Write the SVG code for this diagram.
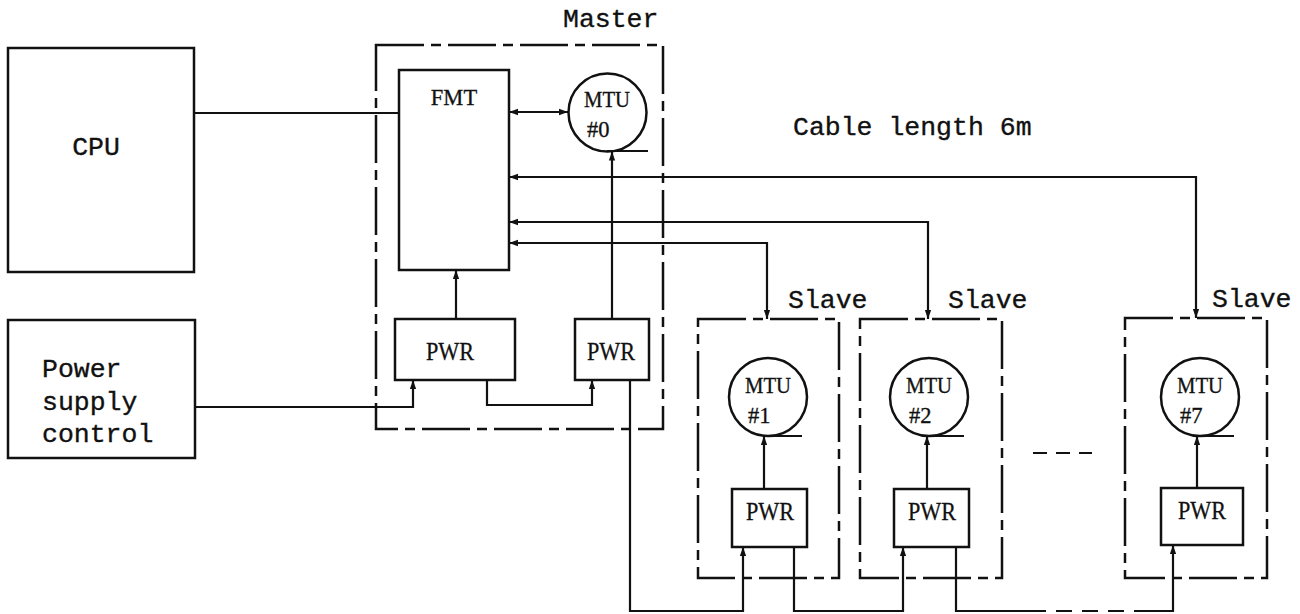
<svg xmlns="http://www.w3.org/2000/svg" width="1300" height="614" viewBox="0 0 1300 614">
<defs>
<marker id="ah" viewBox="0 0 10 10" refX="10" refY="5" markerWidth="9" markerHeight="9" markerUnits="userSpaceOnUse" orient="auto-start-reverse"><path d="M0,1.5 L10,5 L0,8.5 z" fill="#111"/></marker>
<style>
.box{fill:none;stroke:#111;stroke-width:2.5}
.frame{fill:none;stroke:#111;stroke-width:2.5;stroke-dasharray:48 7 10 7}
.wire{fill:none;stroke:#111;stroke-width:2.2}
.arr{marker-end:url(#ah)}
.arr2{marker-start:url(#ah);marker-end:url(#ah)}
.mono{font-family:"Liberation Mono","DejaVu Sans Mono",monospace;font-size:26.5px;fill:#111;stroke:#111;stroke-width:0.35}
.serif{font-family:"Liberation Serif","DejaVu Serif",serif;font-size:22.5px;fill:#111;stroke:#111;stroke-width:0.3}
.pwr{font-size:25px}
.mid{text-anchor:middle}
</style>
</defs>
<rect x="0" y="0" width="1300" height="614" fill="#fff"/>

<g id="cpu"><rect class="box" x="8" y="48" width="186" height="224"/><text class="mono mid" x="96" y="155">CPU</text></g>
<g id="power-supply-control"><rect class="box" x="8" y="320" width="187" height="138"/>
<text class="mono" x="42" y="377">Power</text><text class="mono" x="42" y="410">supply</text><text class="mono" x="42" y="442">control</text></g>

<g id="master"><rect class="frame" x="376" y="45" width="287" height="384"/><text class="mono" x="563" y="27">Master</text></g>
<g id="fmt"><rect class="box" x="399" y="70" width="110" height="200"/><text class="serif mid" x="454" y="105">FMT</text></g>
<g id="mtu0"><circle class="box" cx="607.5" cy="112.5" r="39"/><line class="wire" x1="607" y1="151" x2="648" y2="151"/>
<text class="serif mid" x="607" y="107" textLength="46" lengthAdjust="spacingAndGlyphs">MTU</text><text class="serif" x="587" y="137">#0</text></g>
<g id="pwr-m1"><rect class="box" x="395" y="319" width="120" height="61"/><text class="serif pwr mid" x="450" y="360" textLength="48" lengthAdjust="spacingAndGlyphs">PWR</text></g>
<g id="pwr-m2"><rect class="box" x="575" y="319" width="74" height="61"/><text class="serif pwr mid" x="611" y="360" textLength="48" lengthAdjust="spacingAndGlyphs">PWR</text></g>

<g id="slave1"><rect class="frame" x="698" y="319" width="141" height="259"/><text class="mono" x="788" y="308">Slave</text></g>
<g id="mtu1"><circle class="box" cx="768" cy="397" r="39"/><line class="wire" x1="768" y1="436" x2="802" y2="436"/>
<text class="serif mid" x="768" y="393" textLength="46" lengthAdjust="spacingAndGlyphs">MTU</text><text class="serif" x="748" y="423">#1</text></g>
<g id="pwr-s1"><rect class="box" x="732" y="489" width="75" height="58"/><text class="serif pwr mid" x="770" y="520" textLength="48" lengthAdjust="spacingAndGlyphs">PWR</text></g>

<g id="slave2"><rect class="frame" x="860" y="319" width="142" height="259"/><text class="mono" x="948" y="308">Slave</text></g>
<g id="mtu2"><circle class="box" cx="929" cy="397" r="39"/><line class="wire" x1="929" y1="436" x2="964" y2="436"/>
<text class="serif mid" x="929" y="393" textLength="46" lengthAdjust="spacingAndGlyphs">MTU</text><text class="serif" x="909" y="423">#2</text></g>
<g id="pwr-s2"><rect class="box" x="894" y="489" width="75" height="58"/><text class="serif pwr mid" x="932" y="520" textLength="48" lengthAdjust="spacingAndGlyphs">PWR</text></g>

<g id="slave7"><rect class="frame" x="1125" y="318" width="142" height="260"/><text class="mono" x="1212" y="307">Slave</text></g>
<g id="mtu7"><circle class="box" cx="1200" cy="397" r="39"/><line class="wire" x1="1200" y1="436" x2="1234" y2="436"/>
<text class="serif mid" x="1200" y="393" textLength="46" lengthAdjust="spacingAndGlyphs">MTU</text><text class="serif" x="1180" y="423">#7</text></g>
<g id="pwr-s7"><rect class="box" x="1161" y="488" width="82" height="57"/><text class="serif pwr mid" x="1202" y="519" textLength="48" lengthAdjust="spacingAndGlyphs">PWR</text></g>

<g id="ellipsis"><line class="wire" x1="1033" y1="453" x2="1092" y2="453" stroke-dasharray="14 9"/></g>
<g id="cable-label"><text class="mono" x="793" y="135">Cable length 6m</text></g>

<g id="connectors">
<path class="wire" d="M194,113 H399"/>
<path class="wire arr2" d="M509,112 H568"/>
<path class="wire arr2" d="M509,177 H1196 V318"/>
<path class="wire arr2" d="M509,222 H928 V319"/>
<path class="wire arr2" d="M509,243 H767 V319"/>
<path class="wire arr" d="M456,319 V270"/>
<path class="wire arr" d="M612,319 V151.5"/>
<path class="wire arr" d="M195,407 H413 V380"/>
<path class="wire arr" d="M487,380 V405 H592 V380"/>
<path class="wire arr" d="M630,380 V611 H743 V547"/>
<path class="wire arr" d="M794,547 V611 H903 V547"/>
<path class="wire" d="M956,547 V611 H1030"/>
<path class="wire" d="M1030,611 H1140" stroke-dasharray="16 10"/>
<path class="wire arr" d="M1140,611 H1173 V545"/>
<path class="wire arr" d="M764,489 V436"/>
<path class="wire arr" d="M927,489 V436"/>
<path class="wire arr" d="M1197,488 V436"/>
</g>
</svg>
